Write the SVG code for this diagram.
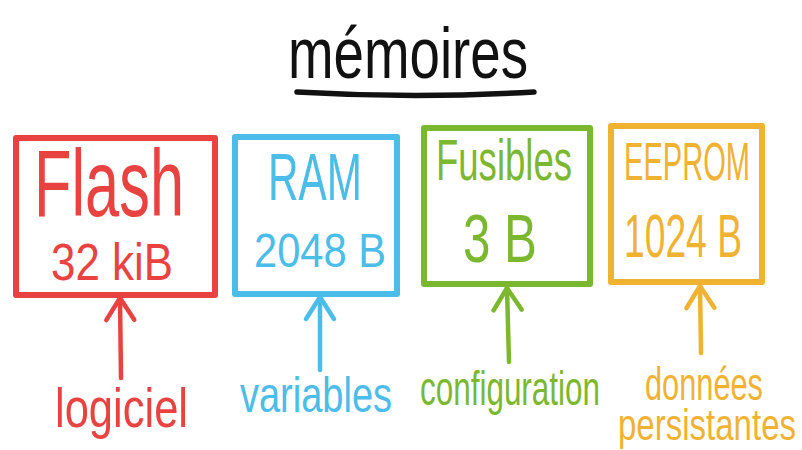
<svg xmlns="http://www.w3.org/2000/svg" width="802" height="450" viewBox="0 0 802 450">
  <style>
    .box { fill: none; stroke-width: 6; stroke-linejoin: round; stroke-linecap: round; }
    .lbl { font-family: "Liberation Sans Narrow", "Liberation Sans", Arial, sans-serif; font-weight: normal; }
    .arrow { fill: none; stroke-width: 4.5; stroke-linecap: round; }
    .red { stroke: #E84340; } .redt { fill: #E84340; }
    .blue { stroke: #4BBDE8; } .bluet { fill: #4BBDE8; }
    .green { stroke: #7CB82F; } .greent { fill: #7CB82F; }
    .orange { stroke: #F0B233; } .oranget { fill: #F0B233; }
  </style>
  <defs>
    <marker id="head-red" markerUnits="userSpaceOnUse" orient="auto" markerWidth="40" markerHeight="40" refX="0" refY="0" viewBox="-30 -20 40 40" overflow="visible">
      <path d="M-22,-14 L0,0 L-22,14" fill="none" stroke="#E84340" stroke-width="4.5" stroke-linecap="round" stroke-linejoin="round"/>
    </marker>
    <marker id="head-blue" markerUnits="userSpaceOnUse" orient="auto" markerWidth="40" markerHeight="40" refX="0" refY="0" viewBox="-30 -20 40 40" overflow="visible">
      <path d="M-22,-14 L0,0 L-22,14" fill="none" stroke="#4BBDE8" stroke-width="4.5" stroke-linecap="round" stroke-linejoin="round"/>
    </marker>
    <marker id="head-green" markerUnits="userSpaceOnUse" orient="auto" markerWidth="40" markerHeight="40" refX="0" refY="0" viewBox="-30 -20 40 40" overflow="visible">
      <path d="M-22,-14 L0,0 L-22,14" fill="none" stroke="#7CB82F" stroke-width="4.5" stroke-linecap="round" stroke-linejoin="round"/>
    </marker>
    <marker id="head-orange" markerUnits="userSpaceOnUse" orient="auto" markerWidth="40" markerHeight="40" refX="0" refY="0" viewBox="-30 -20 40 40" overflow="visible">
      <path d="M-22,-14 L0,0 L-22,14" fill="none" stroke="#F0B233" stroke-width="4.5" stroke-linecap="round" stroke-linejoin="round"/>
    </marker>
  </defs>

  <rect width="802" height="450" fill="#ffffff"/>

  <!-- title -->
  <g id="title">
    <text class="lbl" x="288" y="78" font-size="72" textLength="240" lengthAdjust="spacingAndGlyphs" fill="#111111">mémoires</text>
    <path d="M297,92 Q415,99 534,92" fill="none" stroke="#111111" stroke-width="5.5" stroke-linecap="round"/>
  </g>

  <!-- memory blocks -->
  <g id="flash">
    <rect class="box red" x="16" y="138" width="199" height="157"/>
    <text class="lbl redt" x="34" y="216" font-size="94" textLength="150" lengthAdjust="spacingAndGlyphs">Flash</text>
    <text class="lbl redt" x="51" y="280" font-size="52" textLength="122" lengthAdjust="spacingAndGlyphs">32 kiB</text>
  </g>

  <g id="ram">
    <rect class="box blue" x="235" y="137" width="162" height="157"/>
    <text class="lbl bluet" x="268" y="200" font-size="66" textLength="94" lengthAdjust="spacingAndGlyphs">RAM</text>
    <text class="lbl bluet" x="254" y="267" font-size="49" textLength="132" lengthAdjust="spacingAndGlyphs">2048 B</text>
  </g>

  <g id="fusibles">
    <rect class="box green" x="424" y="128" width="166" height="156"/>
    <text class="lbl greent" x="436" y="180" font-size="58" textLength="136" lengthAdjust="spacingAndGlyphs">Fusibles</text>
    <text class="lbl greent" x="463" y="262" font-size="68" textLength="74" lengthAdjust="spacingAndGlyphs">3 B</text>
  </g>

  <g id="eeprom">
    <rect class="box orange" x="611" y="126" width="151" height="156"/>
    <text class="lbl oranget" x="624" y="180" font-size="53" textLength="126" lengthAdjust="spacingAndGlyphs">EEPROM</text>
    <text class="lbl oranget" x="624" y="257" font-size="61" textLength="118" lengthAdjust="spacingAndGlyphs">1024 B</text>
  </g>

  <!-- usage labels -->
  <g id="logiciel">
    <text class="lbl redt" x="55" y="427" font-size="56" textLength="133" lengthAdjust="spacingAndGlyphs">logiciel</text>
  </g>
  <g id="variables">
    <text class="lbl bluet" x="240" y="412" font-size="50" textLength="152" lengthAdjust="spacingAndGlyphs">variables</text>
  </g>
  <g id="configuration">
    <text class="lbl greent" x="420" y="405" font-size="48" textLength="180" lengthAdjust="spacingAndGlyphs">configuration</text>
  </g>
  <g id="donnees">
    <text class="lbl oranget" x="645" y="400" font-size="46" textLength="118" lengthAdjust="spacingAndGlyphs">données</text>
    <text class="lbl oranget" x="618" y="440" font-size="44" textLength="178" lengthAdjust="spacingAndGlyphs">persistantes</text>
  </g>

  <!-- connectors -->
  <g id="connectors">
    <line class="arrow red" x1="121" y1="378" x2="120" y2="298" marker-end="url(#head-red)"/>
    <line class="arrow blue" x1="320" y1="370" x2="320" y2="297" marker-end="url(#head-blue)"/>
    <line class="arrow green" x1="509" y1="362" x2="507" y2="288" marker-end="url(#head-green)"/>
    <line class="arrow orange" x1="701" y1="353" x2="700" y2="286" marker-end="url(#head-orange)"/>
  </g>
</svg>
